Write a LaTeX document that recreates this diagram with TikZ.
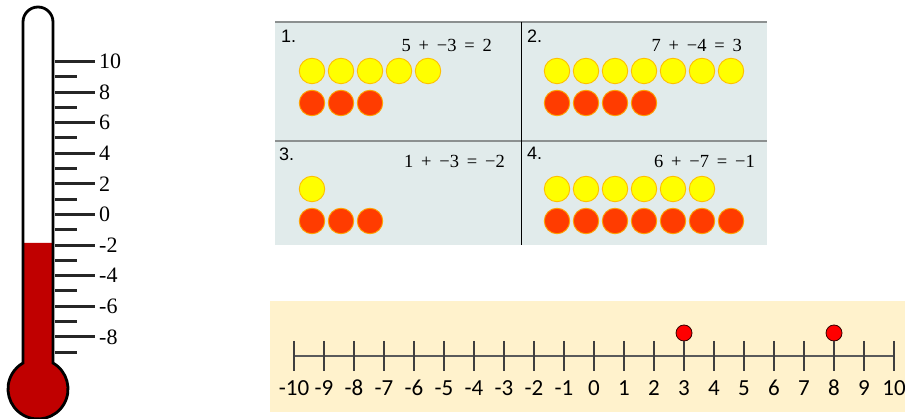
\documentclass[tikz,border=0pt]{standalone}
\usepackage{fontspec}
\setmainfont{Liberation Serif}
\newfontfamily\nlfont{Carlito}
\newfontfamily\numfont{Liberation Sans}
\definecolor{thermred}{HTML}{C00000}
\definecolor{panelbg}{HTML}{E1EBEB}
\definecolor{panelline}{HTML}{8C9090}
\definecolor{cyel}{HTML}{FFFF00}
\definecolor{cyelb}{HTML}{FFC000}
\definecolor{cred}{HTML}{FF3C00}
\definecolor{credb}{HTML}{FFA200}
\definecolor{nlbg}{HTML}{FFF2CC}
\definecolor{nlline}{HTML}{5A5A5A}
\newcommand{\eqsp}{\hspace{0.17em}}
\tikzset{
  yel/.style={circle,fill=cyel,draw=cyelb,line width=0.9pt,minimum size=25.5pt,inner sep=0pt},
  redc/.style={circle,fill=cred,draw=credb,line width=0.9pt,minimum size=25.5pt,inner sep=0pt},
  tlabel/.style={anchor=west,font=\fontsize{22}{22}\selectfont,inner sep=0pt},
  eqlabel/.style={anchor=east,font=\fontsize{18.5}{18.5}\selectfont,inner sep=0pt},
  numlabel/.style={anchor=north west,font=\numfont\fontsize{18}{18}\selectfont,inner sep=0pt},
  nllabel/.style={font=\nlfont\fontsize{23}{23}\selectfont,inner sep=0pt},
  dot/.style={circle,fill=red,draw=black!80!red,line width=0.8pt,minimum size=16pt,inner sep=0pt},
  ttick/.style={line width=3pt,black!85}
}
\begin{document}
\begin{tikzpicture}[x=1pt,y=-1pt]
\useasboundingbox (0,0) rectangle (905,419);
% ---------- thermometer ----------
\fill[white] (23,363) -- (23,22) arc[start angle=180,end angle=360,radius=15] -- (53,363) arc[start angle=-60,end angle=240,radius=30] -- cycle;
\fill[thermred] (23,363) -- (23,243) -- (53,243) -- (53,363) arc[start angle=-60,end angle=240,radius=30] -- cycle;
\draw[line width=2.8pt] (23,363) -- (23,22) arc[start angle=180,end angle=360,radius=15] -- (53,363) arc[start angle=-60,end angle=240,radius=30] -- cycle;
\foreach \i in {-9,...,10}{
  \pgfmathsetmacro{\yy}{214.5-15.3*\i}
  \ifodd\i
    \draw[ttick] (55,\yy) -- (77,\yy);
  \else
    \draw[ttick] (55,\yy) -- (95,\yy);
    \node[tlabel] (t\i) at (99,\yy) {\i};
  \fi
}
% ---------- grid panel ----------
\fill[panelbg] (275,22) rectangle (767,245);
\draw[panelline,line width=1.6pt] (275,22) -- (767,22);
\draw[panelline,line width=1.8pt] (275,141) -- (767,141);
\draw[black,line width=0.8pt] (521,22) -- (521,245);
\node[numlabel] (n1) at (281,30) {1.};
\node[numlabel] (n2) at (527,30) {2.};
\node[numlabel] (n3) at (279,148) {3.};
\node[numlabel] (n4) at (527,147) {4.};
\node[eqlabel] (e1) at (492,45) {5 \eqsp+ \eqsp−3 \eqsp= \eqsp2};
\node[eqlabel] (e2) at (742,45) {7 \eqsp+ \eqsp−4 \eqsp= \eqsp3};
\node[eqlabel] (e3) at (505,161) {1 \eqsp+ \eqsp−3 \eqsp= \eqsp−2};
\node[eqlabel] (e4) at (755,161) {6 \eqsp+ \eqsp−7 \eqsp= \eqsp−1};
% panel 1
\foreach \k in {1,...,5}{\node[yel] (a\k) at ({312+29*(\k-1)},71) {};}
\foreach \k in {1,...,3}{\node[redc] (ar\k) at ({312+29*(\k-1)},103) {};}
% panel 2
\foreach \k in {1,...,7}{\node[yel] (b\k) at ({557+29*(\k-1)},71) {};}
\foreach \k in {1,...,4}{\node[redc] (br\k) at ({557+29*(\k-1)},103) {};}
% panel 3
\node[yel] (c1) at (312,189) {};
\foreach \k in {1,...,3}{\node[redc] (cr\k) at ({312+29*(\k-1)},221) {};}
% panel 4
\foreach \k in {1,...,6}{\node[yel] (d\k) at ({557+29*(\k-1)},189) {};}
\foreach \k in {1,...,7}{\node[redc] (dr\k) at ({557+29*(\k-1)},221) {};}
% ---------- number line ----------
\fill[nlbg] (270,301) rectangle (905,412);
\coordinate (L) at (294,356);
\coordinate (R) at (894,356);
\draw[nlline,line width=1.2pt] (L) -- (R);
\foreach \v in {-10,...,10}{
  \pgfmathsetmacro{\xx}{594+30*\v}
  \coordinate (tk\v) at (\xx,341);
  \coordinate (tb\v) at (\xx,371);
  \node[nllabel] (nl\v) at (\xx,388) {\v};
}
\foreach \v in {-10,...,2,4,5,6,7,9,10}{
  \draw[nlline!70!black,line width=1.1pt] (tk\v) -- (tb\v);
}
\node[dot] (p3) at (684,333) {};
\node[dot] (p8) at (834,333) {};
\draw[nlline!70!black,line width=1.1pt] (p3) -- (tb3);
\draw[nlline!70!black,line width=1.1pt] (p8) -- (tb8);
\end{tikzpicture}
\end{document}
